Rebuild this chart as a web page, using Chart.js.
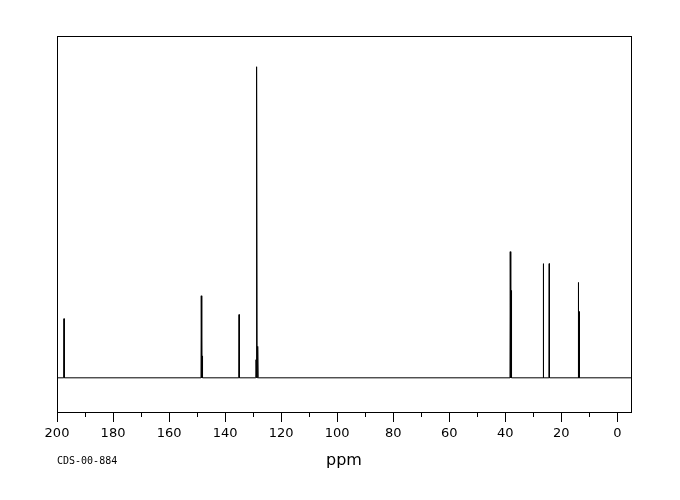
<!DOCTYPE html>
<html>
<head>
<meta charset="utf-8">
<script src="https://cdn.jsdelivr.net/npm/chart.js@4.4.1/dist/chart.umd.min.js"></script>
<style>
  html, body { margin: 0; padding: 0; background: #fff; }
  #wrap { position: relative; width: 680px; height: 500px; }
  #code { position: absolute; left: 57px; top: 455px; font: 10px "DejaVu Sans Mono", monospace; color: #000; }
</style>
</head>
<body>
<div id="wrap">
  <canvas id="spectrum" width="680" height="500"></canvas>
  <div id="code">CDS-00-884</div>
</div>
<script>
// peak positions (ppm) and heights
const peakPpm = [197.5, 148.5, 148.15, 135.0, 128.95, 128.65, 128.3, 38.2, 37.85, 26.4, 24.3, 13.9, 13.55];
const peakHeight = [17.3, 24.0, 6.4, 18.5, 5.3, 91.0, 9.2, 36.9, 25.5, 33.4, 33.4, 27.9, 19.4];

const majorTicks = [200, 180, 160, 140, 120, 100, 80, 60, 40, 20, 0];
const minorTicks = [190, 170, 150, 130, 110, 90, 70, 50, 30, 10];

const xMin = -4.9;
const xMax = 200;

// stick spectrum: baseline, then each peak as a narrow spike
const points = [{ x: xMax, y: 0 }];
peakPpm.forEach((p, i) => {
    points.push({ x: p + 0.1, y: 0 });
    points.push({ x: p, y: peakHeight[i] });
    points.push({ x: p - 0.1, y: 0 });
});
points.push({ x: xMin, y: 0 });

const frameAndMinor = {
    id: 'frameAndMinor',
    afterDraw(chart) {
        const ctx = chart.ctx;
        const a = chart.chartArea;
        const xs = chart.scales.x;
        ctx.save();
        ctx.strokeStyle = '#000';
        ctx.lineWidth = 1;
        ctx.strokeRect(Math.round(a.left) + 0.5, Math.round(a.top) + 0.5,
            Math.round(a.right - a.left), Math.round(a.bottom - a.top));
        ctx.beginPath();
        minorTicks.forEach(v => {
            const px = Math.round(xs.getPixelForValue(v)) + 0.5;
            ctx.moveTo(px, a.bottom);
            ctx.lineTo(px, a.bottom + 5);
        });
        ctx.stroke();
        ctx.restore();
    }
};

new Chart(document.getElementById('spectrum').getContext('2d'), {
    type: 'line',
    data: {
        datasets: [{
            data: points,
            borderColor: '#000',
            borderWidth: 1,
            pointRadius: 0,
            tension: 0,
            fill: false
        }]
    },
    options: {
        responsive: false,
        animation: false,
        layout: { padding: { left: 57, right: 49, top: 36, bottom: 0 } },
        plugins: { legend: { display: false }, tooltip: { enabled: false } },
        scales: {
            x: {
                type: 'linear',
                reverse: true,
                min: xMin,
                max: xMax,
                afterBuildTicks: scale => {
                    scale.ticks = majorTicks.map(v => ({ value: v }));
                },
                afterFit: scale => { scale.height = 88; },
                grid: { drawOnChartArea: false, drawTicks: true, tickLength: 10, color: '#000', lineWidth: 1 },
                border: { display: true, color: '#000', width: 1 },
                ticks: {
                    color: '#000',
                    font: { family: 'DejaVu Sans', size: 13 },
                    padding: 4,
                    maxRotation: 0,
                    autoSkip: false
                },
                title: {
                    display: true,
                    text: 'ppm',
                    color: '#000',
                    font: { family: 'DejaVu Sans', size: 16 },
                    padding: { top: 0, bottom: 30 }
                }
            },
            y: {
                display: false,
                min: -10,
                max: 100
            }
        }
    },
    plugins: [frameAndMinor]
});
</script>
</body>
</html>
